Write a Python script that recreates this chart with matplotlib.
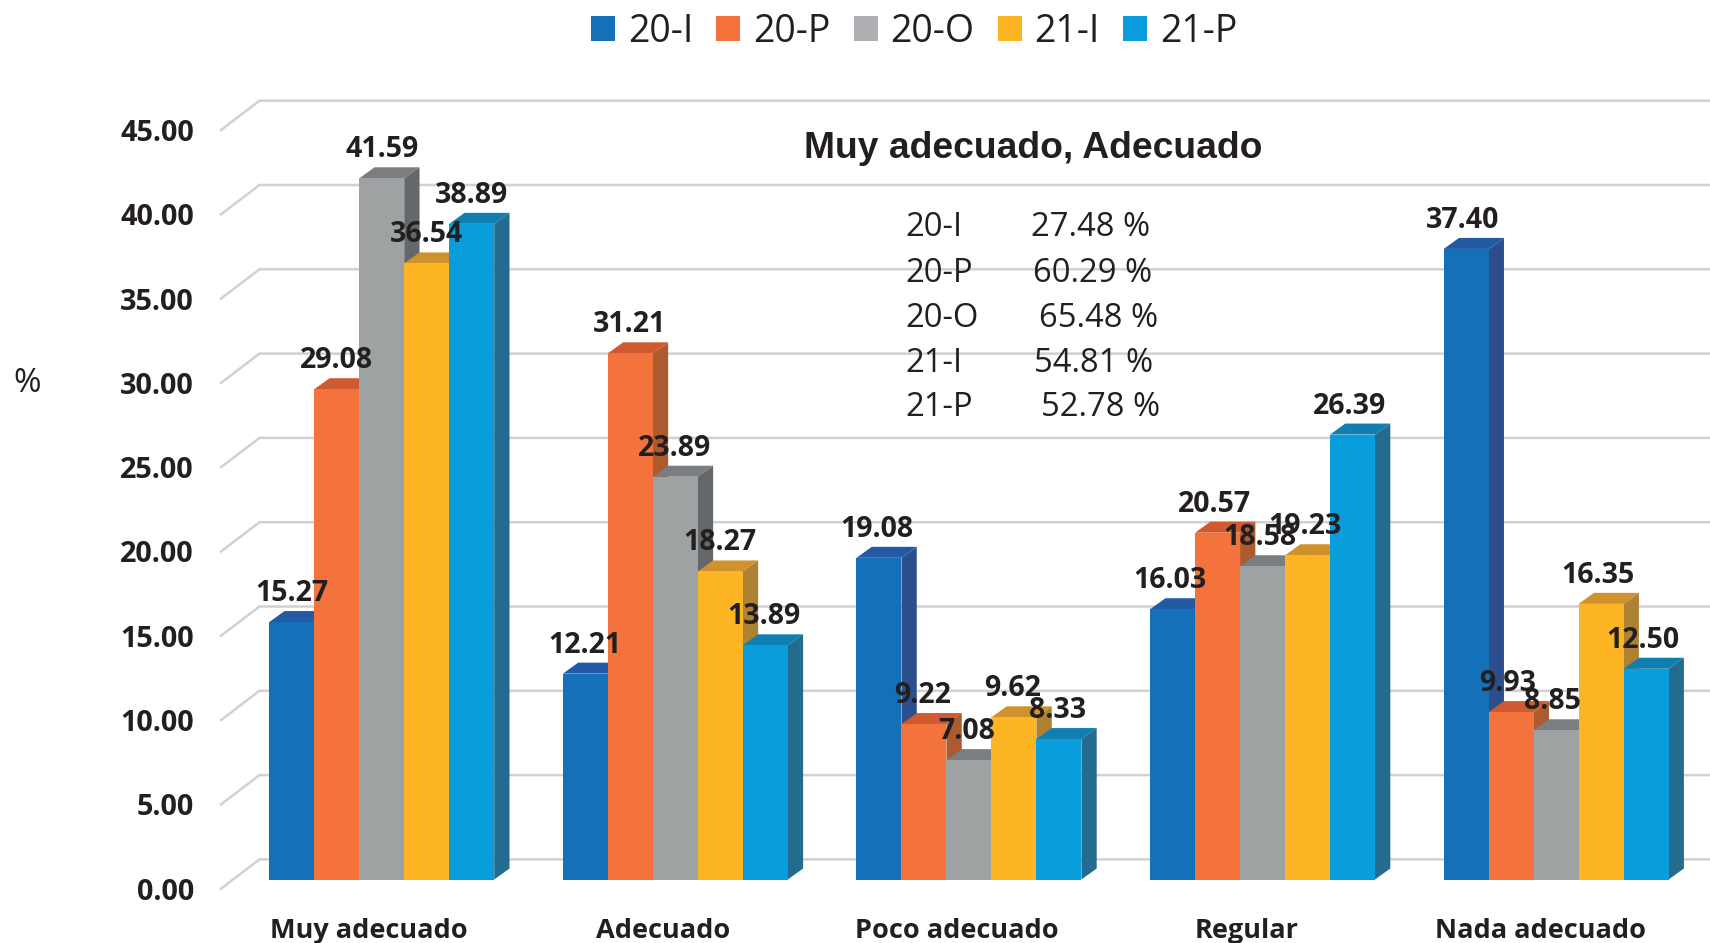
import numpy as np
import matplotlib
matplotlib.use('Agg')
import matplotlib.pyplot as plt
from matplotlib.patches import Polygon, Patch

categories = ['Muy adecuado', 'Adecuado', 'Poco adecuado', 'Regular', 'Nada adecuado']
series_names = ['20-I', '20-P', '20-O', '21-I', '21-P']
vals_20i = [15.27, 12.21, 19.08, 16.03, 37.40]
vals_20p = [29.08, 31.21, 9.22, 20.57, 9.93]
vals_20o = [41.59, 23.89, 7.08, 18.58, 8.85]
vals_21i = [36.54, 18.27, 9.62, 19.23, 16.35]
vals_21p = [38.89, 13.89, 8.33, 26.39, 12.50]
all_vals = [vals_20i, vals_20p, vals_20o, vals_21i, vals_21p]

yticks = [0, 5, 10, 15, 20, 25, 30, 35, 40, 45]
box_title = 'Muy adecuado, Adecuado'
box_pct = ['27.48 %', '60.29 %', '65.48 %', '54.81 %', '52.78 %']

# colours: front, top, side
front = ['#1570ba', '#f4733d', '#9fa2a3', '#fdb523', '#099edb']
top = ['#2459a3', '#d05a2f', '#7b7e80', '#d0922c', '#0e7fb0']
side = ['#2d4e8c', '#ad5a2e', '#65686a', '#ae8133', '#236b8f']
legend_cols = ['#1570ba', '#f4733d', '#adafb2', '#fdb523', '#099edb']
ink = '#231f20'
grid = '#d1d1d1'

W, H = 1710, 943
px_unit_y = 16.86
px_unit_x = 293.7
bar_w = 45.0 / px_unit_x
# fake 3d offsets, in data units
lift = 9.2 / px_unit_y
bar_dx = 15.3 / px_unit_x
bar_dy = 11.0 / px_unit_y
wall_dx = 38.5 / px_unit_x
wall_dy = 29.3 / px_unit_y
label_gap = 28.5 / px_unit_y
label_drift = -0.9 / px_unit_x

plt.rcParams['font.family'] = ['Open Sans', 'DejaVu Sans']

fig = plt.figure(figsize=(W / 100, H / 100), dpi=100)
ax = fig.add_axes([221 / W, (H - 888.7) / H, (W - 221) / W, (888.7 - 130) / H])
ax.set_xlim((220.5 - 381.3) / px_unit_x, (W - 381.3) / px_unit_x)
ax.set_ylim(0, 45)
for s in ax.spines.values():
    s.set_visible(False)

xmin = ax.get_xlim()[0]
xmax = ax.get_xlim()[1]
for y in yticks:
    ax.plot([xmin, xmin + wall_dx, xmax], [y, y + wall_dy, y + wall_dy],
            color=grid, lw=1.8, clip_on=False, zorder=1, solid_joinstyle='miter')

ax.set_yticks(yticks)
ax.set_yticklabels(['%.2f' % y for y in yticks], fontsize=20.8, fontweight='bold', color=ink)
ax.tick_params(axis='y', length=0, pad=19.5)
ax.set_xticks(np.arange(len(categories)) + np.array([-0.043, -0.043, -0.043, -0.056, -0.053]))
ax.set_xticklabels(categories, fontsize=19.5, fontweight='bold', color=ink)
ax.tick_params(axis='x', length=0, pad=21)

for i in range(len(categories)):
    for j, vals in enumerate(all_vals):
        v = vals[i]
        left = i + (j - 2.5) * bar_w
        right = left + bar_w
        base = lift
        high = lift + v
        z = 2 + i * 10 + j
        ax.add_patch(Polygon([(left, high), (right, high), (right + bar_dx, high + bar_dy),
                              (left + bar_dx, high + bar_dy)], color=top[j], lw=0, zorder=z))
        ax.add_patch(Polygon([(right, base), (right + bar_dx, base + bar_dy),
                              (right + bar_dx, high + bar_dy), (right, high)],
                             color=side[j], lw=0, zorder=z))
        ax.bar(left, v, width=bar_w, bottom=base, align='edge', color=front[j], lw=0, zorder=z + 0.5)
        ax.text(left + bar_w / 2 + i * label_drift, high + label_gap, '%.2f' % v, ha='center', va='center',
                fontsize=20.5, fontweight='bold', color=ink, zorder=100)

handles = [Patch(color=c, lw=0, label=n) for c, n in zip(legend_cols, series_names)]
leg = fig.legend(handles=handles, loc='center', bbox_to_anchor=(914 / W, 1 - 32 / H), ncol=5,
                 frameon=False, fontsize=27, handlelength=0.64, handleheight=0.64,
                 handletextpad=0.34, columnspacing=0.62, labelcolor=ink)

fig.text(1033.5 / W, 1 - 149 / H, box_title, ha='center', va='center', fontsize=26.8,
         fontweight='bold', color=ink, family='Liberation Sans')

pct_x = [1031, 1033, 1039, 1034, 1041]
row_y = [228, 273, 318, 363, 407]
for name, pct, x, y in zip(series_names, box_pct, pct_x, row_y):
    fig.text(905 / W, 1 - y / H, name, ha='left', va='center', fontsize=23.6, color=ink)
    fig.text(x / W, 1 - y / H, pct, ha='left', va='center', fontsize=23.6, color=ink)

fig.text(27 / W, 1 - 384 / H, '%', ha='center', va='center', fontsize=24, color=ink)

fig.savefig('out.png', dpi=100)
